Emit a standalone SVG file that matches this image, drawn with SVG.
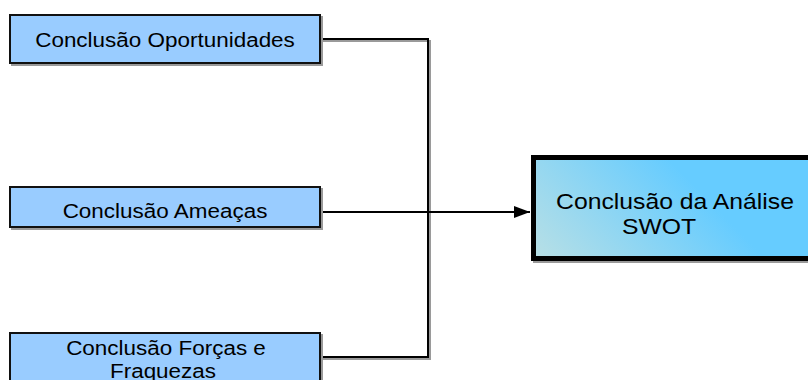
<svg xmlns="http://www.w3.org/2000/svg" width="808" height="380" viewBox="0 0 808 380">
  <defs>
    <linearGradient id="swotFill" gradientUnits="userSpaceOnUse" x1="545" y1="262" x2="660" y2="150">
      <stop offset="0" stop-color="#b6dfe6"/>
      <stop offset="1" stop-color="#66ccff"/>
    </linearGradient>
    <marker id="arrow" viewBox="0 0 16 12" refX="16" refY="6" markerWidth="16" markerHeight="12" markerUnits="userSpaceOnUse" orient="auto">
      <path d="M0,0 L16,6 L0,12 Z" fill="#000"/>
    </marker>
  </defs>
  <style>
    .box { fill: #99ccff; stroke: #111; stroke-width: 2; }
    .shadow { fill: none; stroke: #9a9a9a; stroke-width: 2; }
    .wire { fill: none; stroke: #000; stroke-width: 2; }
    .label { font-family: "Liberation Sans", Arial, sans-serif; font-size: 21px; fill: #000; text-anchor: middle; }
    .big { font-size: 22.5px; }
  </style>

  <rect width="808" height="380" fill="#fff"/>

  <!-- connectors -->
  <g id="connectors">
    <path class="shadow" d="M322,41 H430 V359 H322"/>
    <path class="wire" d="M321,39 H428 V357 H321"/>
    <line class="wire" x1="321" y1="212" x2="530" y2="212" marker-end="url(#arrow)"/>
  </g>

  <g id="node-oportunidades">
    <rect class="shadow" x="12" y="17" width="310" height="48"/>
    <rect class="box" x="10" y="15" width="310" height="48"/>
    <text class="label" transform="translate(165,47) scale(1.07,1)">Conclusão Oportunidades</text>
  </g>

  <g id="node-ameacas">
    <rect class="shadow" x="12" y="189" width="310" height="40"/>
    <rect class="box" x="10" y="187" width="310" height="40"/>
    <text class="label" transform="translate(165,218) scale(1.07,1)">Conclusão Ameaças</text>
  </g>

  <g id="node-forcas-fraquezas">
    <rect class="shadow" x="12" y="335" width="310" height="60"/>
    <rect class="box" x="10" y="333" width="310" height="60"/>
    <text class="label" transform="translate(166,355) scale(1.07,1)">Conclusão Forças e</text>
    <text class="label" transform="translate(163,378) scale(1.07,1)">Fraquezas</text>
  </g>

  <g id="node-swot">
    <rect x="535.5" y="159.5" width="300" height="101" fill="none" stroke="#9a9a9a" stroke-width="5"/>
    <rect x="533.5" y="157.5" width="300" height="101" fill="url(#swotFill)" stroke="#000" stroke-width="5"/>
    <text class="label big" transform="translate(675,209) scale(1.1,1)">Conclusão da Análise</text>
    <text class="label big" transform="translate(659,234) scale(1.1,1)">SWOT</text>
  </g>
</svg>
